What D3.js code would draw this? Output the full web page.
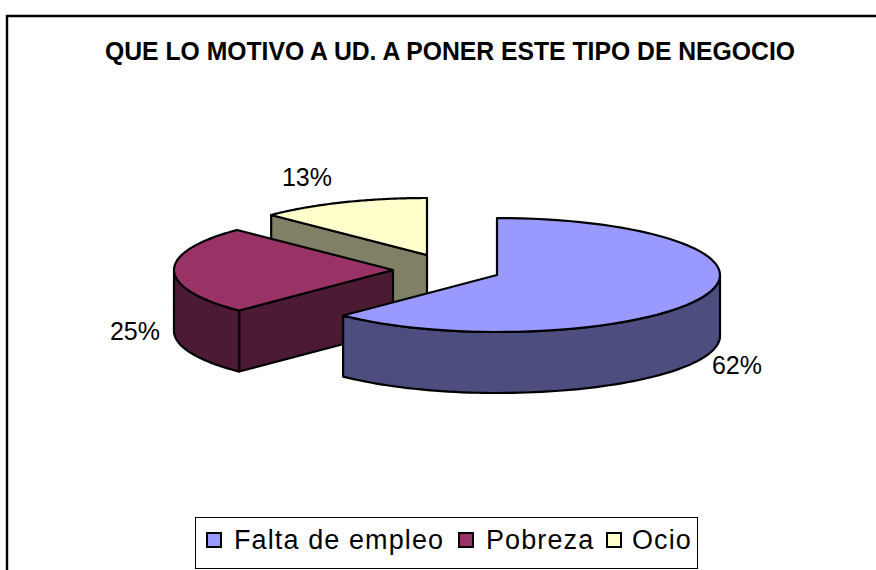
<!DOCTYPE html>
<html><head><meta charset="utf-8">
<script src="https://cdn.jsdelivr.net/npm/d3@7/dist/d3.min.js"></script>
<style>html,body{margin:0;padding:0;background:#fff;overflow:hidden}svg{display:block}text{font-family:"Liberation Sans",Arial,sans-serif;fill:#000}</style>
</head><body><script>
const chartTitle = "QUE LO MOTIVO A UD. A PONER ESTE TIPO DE NEGOCIO";
const categories = ["Falta de empleo", "Pobreza", "Ocio"];
const values = [62.4, 25, 12.6];
const valueLabels = ["62%", "25%", "13%"];
const topColors = ["#9999FF", "#993366", "#FFFFCC"];
const sideColors = ["#4D4D80", "#4D1A33", "#808066"];
const apexX = [497, 393, 427];
const apexY = [275, 270, 255];
const labelX = [737, 135, 307];
const labelY = [374, 340, 186];
const legendSwatchX = [207, 459, 607];
const legendTextX = [234, 486, 632];

const W = 876, H = 570, ry = 57, depth = 61, rxRight = 223, rxLeft = 219;
const svg = d3.select("body").append("svg").attr("width", W).attr("height", H);

svg.append("path").attr("d", `M7 ${H}V16H${W}`).attr("fill", "none").attr("stroke", "#000").attr("stroke-width", 2.4);
svg.append("text").attr("x", 450).attr("y", 60).attr("text-anchor", "middle")
  .attr("font-size", 26).attr("font-weight", "bold").attr("textLength", 690).attr("lengthAdjust", "spacingAndGlyphs").text(chartTitle);

const arcs = d3.pie().sort(null).startAngle(0).endAngle(2 * Math.PI)(values);
const px = (i, a) => apexX[i] + (Math.sin(a) >= 0 ? rxRight : rxLeft) * Math.sin(a);
const py = (i, a, dz = 0) => apexY[i] - ry * Math.cos(a) + dz;
const line = d3.line();
const sample = (a0, a1) => d3.range(0, 73).map(k => a0 + (a1 - a0) * k / 72);
const style = (sel, fill) => sel.attr("fill", fill).attr("stroke", "#000").attr("stroke-width", 2.2).attr("stroke-linejoin", "round");

function drawSlice(i) {
  const g = svg.append("g");
  const { startAngle: s, endAngle: e } = arcs[i];
  // radial cut face seen from the front
  if (i !== 0) {
    style(g.append("path").attr("d", line([[apexX[i], apexY[i]], [px(i, s), py(i, s)], [px(i, s), py(i, s, depth)], [apexX[i], apexY[i] + depth]]) + "Z"), sideColors[i]);
  }
  // outer wall on the front half
  const w0 = Math.max(s, Math.PI / 2), w1 = Math.min(e, 3 * Math.PI / 2);
  if (w1 > w0) {
    const as = sample(w0, w1);
    const pts = as.map(a => [px(i, a), py(i, a)]).concat(as.slice().reverse().map(a => [px(i, a), py(i, a, depth)]));
    style(g.append("path").attr("d", line(pts) + "Z"), sideColors[i]);
  }
  // top face
  const top = [[apexX[i], apexY[i]]].concat(sample(s, e).map(a => [px(i, a), py(i, a)]));
  style(g.append("path").attr("d", line(top) + "Z"), topColors[i]);
}
[2, 1, 0].forEach(drawSlice);

svg.append("g").selectAll("text").data(valueLabels).join("text")
  .attr("x", (d, i) => labelX[i]).attr("y", (d, i) => labelY[i])
  .attr("text-anchor", "middle").attr("font-size", 25).text(d => d);

svg.append("rect").attr("x", 195.5).attr("y", 517.5).attr("width", 502).attr("height", 51)
  .attr("fill", "#fff").attr("stroke", "#000").attr("stroke-width", 1);
const leg = svg.append("g").selectAll("g").data(categories).join("g");
leg.append("rect").attr("x", (d, i) => legendSwatchX[i]).attr("y", 533).attr("width", 14).attr("height", 14)
  .attr("fill", (d, i) => topColors[i]).attr("stroke", "#000").attr("stroke-width", 2);
leg.append("text").attr("x", (d, i) => legendTextX[i]).attr("y", 549).attr("font-size", 27).attr("letter-spacing", 1.1).text(d => d);
</script></body></html>
